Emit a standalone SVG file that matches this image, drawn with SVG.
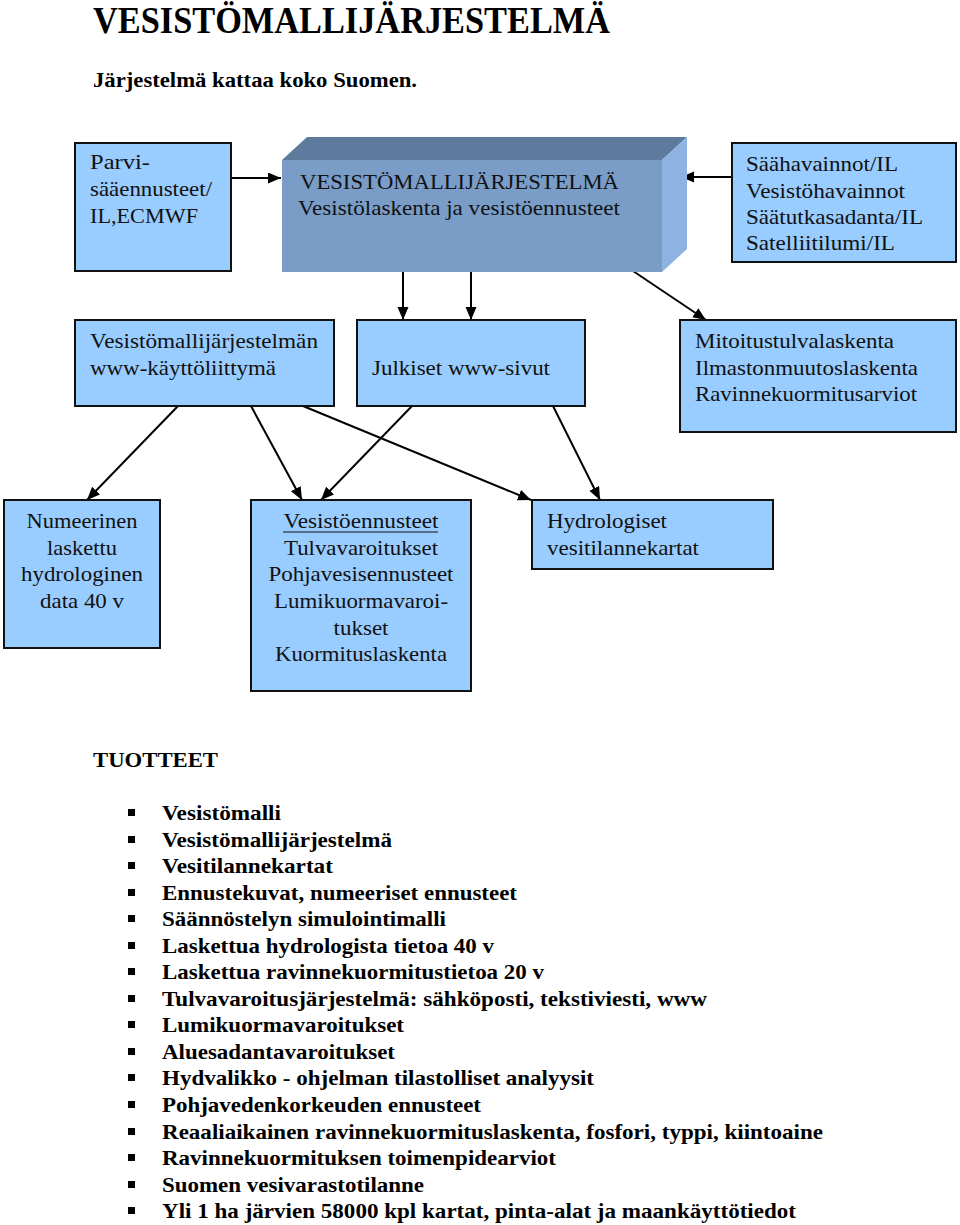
<svg xmlns="http://www.w3.org/2000/svg" width="960" height="1225" viewBox="0 0 960 1225">
<style>
.box{fill:#99CCFF;stroke:#111;stroke-width:2}
.t{font-family:"Liberation Serif","Times New Roman",serif;font-size:21.5px;fill:#111}
.c{text-anchor:middle}
.b{font-family:"Liberation Serif","Times New Roman",serif;font-weight:bold;fill:#000}
.bl{font-family:"Liberation Serif","Times New Roman",serif;font-weight:bold;font-size:22px;fill:#000}
.con{stroke:#000;stroke-width:2;fill:none;marker-end:url(#ah)}
.sq{fill:#000}
</style>
<defs>
<marker id="ah" markerUnits="userSpaceOnUse" markerWidth="14" markerHeight="12" refX="13" refY="5.5" orient="auto">
<path d="M0,0 L13,5.5 L0,11 Z" fill="#000"/>
</marker>
</defs>
<rect width="960" height="1225" fill="#fff"/>

<text class="b" x="93" y="33" font-size="37" textLength="517" lengthAdjust="spacingAndGlyphs">VESISTÖMALLIJÄRJESTELMÄ</text>
<text class="b" x="93" y="87" font-size="21" textLength="324" lengthAdjust="spacingAndGlyphs">Järjestelmä kattaa koko Suomen.</text>

<g id="connectors">
<line class="con" x1="231" y1="178" x2="281" y2="178"/>
<line class="con" x1="732" y1="177" x2="681" y2="177"/>
<line class="con" x1="403" y1="272" x2="403" y2="320"/>
<line class="con" x1="471" y1="272" x2="471" y2="320"/>
<line class="con" x1="633" y1="271" x2="706" y2="320"/>
<line class="con" x1="178" y1="406" x2="87" y2="500"/>
<line class="con" x1="251" y1="406" x2="302" y2="500"/>
<line class="con" x1="303" y1="406" x2="531" y2="500"/>
<line class="con" x1="412" y1="406" x2="321" y2="500"/>
<line class="con" x1="553" y1="406" x2="600" y2="500"/>
</g>

<g id="parvi">
<rect class="box" x="75" y="143" width="156" height="128"/>
<text class="t" x="90" y="169" textLength="60" lengthAdjust="spacingAndGlyphs">Parvi-</text>
<text class="t" x="90" y="196" textLength="122" lengthAdjust="spacingAndGlyphs">sääennusteet/</text>
<text class="t" x="90" y="223" textLength="108" lengthAdjust="spacingAndGlyphs">IL,ECMWF</text>
</g>

<g id="vesistomallijarjestelma">
<polygon points="282,160 307,137 687,137 662,160" fill="#5E7B9E"/>
<polygon points="662,160 687,137 687,249 662,272" fill="#8DB3E2"/>
<rect x="282" y="160" width="380" height="112" fill="#7A9DC8"/>
<text class="t" x="300" y="189" textLength="319" lengthAdjust="spacingAndGlyphs">VESISTÖMALLIJÄRJESTELMÄ</text>
<text class="t" x="298" y="215" textLength="322" lengthAdjust="spacingAndGlyphs">Vesistölaskenta ja vesistöennusteet</text>
</g>

<g id="havainnot">
<rect class="box" x="732" y="143" width="224" height="119"/>
<text class="t" x="746" y="171" textLength="152" lengthAdjust="spacingAndGlyphs">Säähavainnot/IL</text>
<text class="t" x="746" y="198" textLength="159" lengthAdjust="spacingAndGlyphs">Vesistöhavainnot</text>
<text class="t" x="746" y="224" textLength="177" lengthAdjust="spacingAndGlyphs">Säätutkasadanta/IL</text>
<text class="t" x="746" y="250" textLength="149" lengthAdjust="spacingAndGlyphs">Satelliitilumi/IL</text>
</g>

<g id="kayttoliittyma">
<rect class="box" x="75" y="320" width="259" height="86"/>
<text class="t" x="90" y="348" textLength="228" lengthAdjust="spacingAndGlyphs">Vesistömallijärjestelmän</text>
<text class="t" x="90" y="375" textLength="186" lengthAdjust="spacingAndGlyphs">www-käyttöliittymä</text>
</g>

<g id="julkiset">
<rect class="box" x="357" y="320" width="228" height="86"/>
<text class="t" x="372" y="375" textLength="178" lengthAdjust="spacingAndGlyphs">Julkiset www-sivut</text>
</g>

<g id="mitoitus">
<rect class="box" x="680" y="320" width="276" height="112"/>
<text class="t" x="695" y="348" textLength="199" lengthAdjust="spacingAndGlyphs">Mitoitustulvalaskenta</text>
<text class="t" x="695" y="375" textLength="223" lengthAdjust="spacingAndGlyphs">Ilmastonmuutoslaskenta</text>
<text class="t" x="695" y="401" textLength="222" lengthAdjust="spacingAndGlyphs">Ravinnekuormitusarviot</text>
</g>

<g id="numeerinen">
<rect class="box" x="4" y="500" width="156" height="148"/>
<text class="t c" x="82" y="528" textLength="111" lengthAdjust="spacingAndGlyphs">Numeerinen</text>
<text class="t c" x="82" y="555" textLength="70" lengthAdjust="spacingAndGlyphs">laskettu</text>
<text class="t c" x="82" y="581" textLength="122" lengthAdjust="spacingAndGlyphs">hydrologinen</text>
<text class="t c" x="82" y="608" textLength="84" lengthAdjust="spacingAndGlyphs">data 40 v</text>
</g>

<g id="ennusteet">
<rect class="box" x="251" y="500" width="220" height="191"/>
<text class="t c" x="361" y="528" textLength="155" lengthAdjust="spacingAndGlyphs">Vesistöennusteet</text>
<line x1="283" y1="532" x2="438" y2="532" stroke="#111" stroke-width="1.2"/>
<text class="t c" x="361" y="555" textLength="154" lengthAdjust="spacingAndGlyphs">Tulvavaroitukset</text>
<text class="t c" x="361" y="581" textLength="185" lengthAdjust="spacingAndGlyphs">Pohjavesisennusteet</text>
<text class="t c" x="361" y="608" textLength="174" lengthAdjust="spacingAndGlyphs">Lumikuormavaroi-</text>
<text class="t c" x="361" y="635" textLength="55" lengthAdjust="spacingAndGlyphs">tukset</text>
<text class="t c" x="361" y="661" textLength="172" lengthAdjust="spacingAndGlyphs">Kuormituslaskenta</text>
</g>

<g id="hydrologiset">
<rect class="box" x="532" y="500" width="241" height="69"/>
<text class="t" x="547" y="528" textLength="120" lengthAdjust="spacingAndGlyphs">Hydrologiset</text>
<text class="t" x="547" y="555" textLength="152" lengthAdjust="spacingAndGlyphs">vesitilannekartat</text>
</g>

<g id="tuotteet">
<text class="b" x="93" y="767" font-size="22" textLength="125" lengthAdjust="spacingAndGlyphs">TUOTTEET</text>
<rect class="sq" x="128" y="809" width="7" height="7"/>
<text class="bl" x="162" y="820" textLength="119" lengthAdjust="spacingAndGlyphs">Vesistömalli</text>
<rect class="sq" x="128" y="836" width="7" height="7"/>
<text class="bl" x="162" y="847" textLength="230" lengthAdjust="spacingAndGlyphs">Vesistömallijärjestelmä</text>
<rect class="sq" x="128" y="862" width="7" height="7"/>
<text class="bl" x="162" y="873" textLength="171" lengthAdjust="spacingAndGlyphs">Vesitilannekartat</text>
<rect class="sq" x="128" y="889" width="7" height="7"/>
<text class="bl" x="162" y="900" textLength="355" lengthAdjust="spacingAndGlyphs">Ennustekuvat, numeeriset ennusteet</text>
<rect class="sq" x="128" y="915" width="7" height="7"/>
<text class="bl" x="162" y="926" textLength="284" lengthAdjust="spacingAndGlyphs">Säännöstelyn simulointimalli</text>
<rect class="sq" x="128" y="942" width="7" height="7"/>
<text class="bl" x="162" y="953" textLength="332" lengthAdjust="spacingAndGlyphs">Laskettua hydrologista tietoa 40 v</text>
<rect class="sq" x="128" y="968" width="7" height="7"/>
<text class="bl" x="162" y="979" textLength="382" lengthAdjust="spacingAndGlyphs">Laskettua ravinnekuormitustietoa 20 v</text>
<rect class="sq" x="128" y="995" width="7" height="7"/>
<text class="bl" x="162" y="1006" textLength="545" lengthAdjust="spacingAndGlyphs">Tulvavaroitusjärjestelmä: sähköposti, tekstiviesti, www</text>
<rect class="sq" x="128" y="1021" width="7" height="7"/>
<text class="bl" x="162" y="1032" textLength="242" lengthAdjust="spacingAndGlyphs">Lumikuormavaroitukset</text>
<rect class="sq" x="128" y="1048" width="7" height="7"/>
<text class="bl" x="162" y="1059" textLength="233" lengthAdjust="spacingAndGlyphs">Aluesadantavaroitukset</text>
<rect class="sq" x="128" y="1074" width="7" height="7"/>
<text class="bl" x="162" y="1085" textLength="432" lengthAdjust="spacingAndGlyphs">Hydvalikko - ohjelman tilastolliset analyysit</text>
<rect class="sq" x="128" y="1101" width="7" height="7"/>
<text class="bl" x="162" y="1112" textLength="319" lengthAdjust="spacingAndGlyphs">Pohjavedenkorkeuden ennusteet</text>
<rect class="sq" x="128" y="1128" width="7" height="7"/>
<text class="bl" x="162" y="1139" textLength="661" lengthAdjust="spacingAndGlyphs">Reaaliaikainen ravinnekuormituslaskenta, fosfori, typpi, kiintoaine</text>
<rect class="sq" x="128" y="1154" width="7" height="7"/>
<text class="bl" x="162" y="1165" textLength="394" lengthAdjust="spacingAndGlyphs">Ravinnekuormituksen toimenpidearviot</text>
<rect class="sq" x="128" y="1181" width="7" height="7"/>
<text class="bl" x="162" y="1192" textLength="262" lengthAdjust="spacingAndGlyphs">Suomen vesivarastotilanne</text>
<rect class="sq" x="128" y="1207" width="7" height="7"/>
<text class="bl" x="162" y="1218" textLength="634" lengthAdjust="spacingAndGlyphs">Yli 1 ha järvien 58000 kpl kartat, pinta-alat ja maankäyttötiedot</text>
</g>
</svg>
